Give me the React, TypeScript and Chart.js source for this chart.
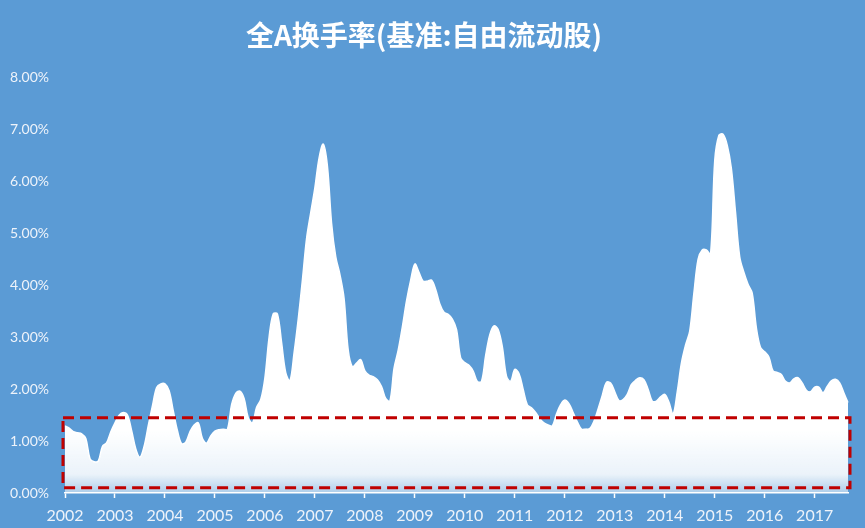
import React, { useEffect, useRef } from 'react';
import { Chart, registerables } from 'chart.js';

Chart.register(...registerables);

const titleText = '全A换手率(基准:自由流动股)';
const firstYear = 2002;

// Monthly turnover (%)
const turnover2002 = [1.29, 1.25, 1.18, 1.16, 1.14, 1.05, 0.66, 0.6, 0.62, 0.9, 0.97, 1.18];
const turnover2003 = [1.35, 1.5, 1.55, 1.5, 1.2, 0.85, 0.69, 0.9, 1.3, 1.68, 2.03, 2.1];
const turnover2004 = [2.1, 1.97, 1.58, 1.2, 0.95, 0.98, 1.18, 1.31, 1.35, 1.05, 0.96, 1.1];
const turnover2005 = [1.19, 1.22, 1.23, 1.23, 1.7, 1.92, 1.96, 1.82, 1.45, 1.35, 1.65, 1.8];
const turnover2006 = [2.22, 3.0, 3.45, 3.45, 2.9, 2.32, 2.16, 2.7, 3.35, 4.1, 4.9, 5.4];
const turnover2007 = [5.88, 6.45, 6.72, 6.3, 5.2, 4.55, 4.21, 3.75, 2.75, 2.43, 2.5, 2.57];
const turnover2008 = [2.35, 2.27, 2.24, 2.18, 2.05, 1.82, 1.77, 2.4, 2.75, 3.2, 3.7, 4.1];
const turnover2009 = [4.41, 4.25, 4.08, 4.08, 4.1, 3.92, 3.64, 3.48, 3.44, 3.35, 3.15, 2.6];
const turnover2010 = [2.51, 2.46, 2.35, 2.15, 2.15, 2.65, 3.05, 3.22, 3.15, 2.82, 2.25, 2.15];
const turnover2011 = [2.38, 2.3, 2.0, 1.7, 1.64, 1.55, 1.43, 1.35, 1.31, 1.29, 1.52, 1.7];
const turnover2012 = [1.79, 1.72, 1.55, 1.37, 1.23, 1.23, 1.24, 1.38, 1.62, 1.88, 2.13, 2.12];
const turnover2013 = [1.95, 1.78, 1.8, 1.9, 2.09, 2.17, 2.22, 2.18, 2.0, 1.77, 1.77, 1.85];
const turnover2014 = [1.9, 1.75, 1.52, 1.95, 2.5, 2.85, 3.12, 3.85, 4.5, 4.68, 4.68, 4.6];
const turnover2015 = [6.4, 6.89, 6.91, 6.7, 6.25, 5.4, 4.55, 4.25, 4.02, 3.85, 3.18, 2.8];
const turnover2016 = [2.72, 2.62, 2.35, 2.32, 2.28, 2.15, 2.12, 2.2, 2.22, 2.12, 1.98, 1.95];
const turnover2017 = [2.04, 2.04, 1.93, 2.05, 2.16, 2.19, 2.12, 1.93, 1.74];

const yearlySeries = [
  turnover2002, turnover2003, turnover2004, turnover2005, turnover2006, turnover2007,
  turnover2008, turnover2009, turnover2010, turnover2011, turnover2012, turnover2013,
  turnover2014, turnover2015, turnover2016, turnover2017,
];

// Highlighted band (red dashed box), in %
const bandLow = 0.1;
const bandHigh = 1.45;

const yMin = 0;
const yMax = 8;
const yStep = 1;

const values: number[] = yearlySeries.flat();
const labels: string[] = [];
yearlySeries.forEach((arr, yi) => {
  arr.forEach((_, mi) => labels.push(`${firstYear + yi}-${String(mi + 1).padStart(2, '0')}`));
});

const BG = '#5B9BD5';
const TEXT = '#EEF3FA';

const bandPlugin = {
  id: 'bandBox',
  afterDatasetsDraw(chart: any) {
    const { ctx, scales } = chart;
    const x = scales.x;
    const y = scales.y;
    const left = x.getPixelForValue(0) - 2;
    const right = x.getPixelForValue(values.length - 1) + 2;
    const top = y.getPixelForValue(bandHigh);
    const bottom = y.getPixelForValue(bandLow);
    ctx.save();
    ctx.strokeStyle = '#C00000';
    ctx.lineWidth = 3;
    ctx.setLineDash([11, 6]);
    ctx.strokeRect(left, top, right - left, bottom - top);
    ctx.restore();
  },
};

export default function App() {
  const canvasRef = useRef<HTMLCanvasElement | null>(null);

  useEffect(() => {
    if (!canvasRef.current) return;
    const chart = new Chart(canvasRef.current, {
      type: 'line',
      data: {
        labels,
        datasets: [
          {
            data: values,
            borderColor: '#FFFFFF',
            borderWidth: 1.5,
            pointRadius: 0,
            tension: 0.35,
            fill: 'origin',
            backgroundColor: (ctx: any) => {
              const ch = ctx.chart;
              const { chartArea, scales } = ch;
              if (!chartArea || !scales.y) return '#FFFFFF';
              const y0 = scales.y.getPixelForValue(0);
              const y1 = scales.y.getPixelForValue(1.2);
              const g = ch.ctx.createLinearGradient(0, y0, 0, y1);
              g.addColorStop(0, 'rgba(255,255,255,0.5)');
              g.addColorStop(0.3, 'rgba(255,255,255,0.88)');
              g.addColorStop(1, 'rgba(255,255,255,1)');
              return g;
            },
          },
        ],
      },
      options: {
        animation: false,
        responsive: false,
        maintainAspectRatio: false,
        layout: { padding: { left: 0, right: 17, top: 0, bottom: 0 } },
        plugins: {
          legend: { display: false },
          tooltip: { enabled: false },
          title: {
            display: true,
            text: titleText,
            color: '#FFFFFF',
            font: { family: '"Noto Sans CJK SC", "Noto Sans", sans-serif', size: 28, weight: 'bold' },
            padding: { top: 19, bottom: 25 },
          },
        },
        scales: {
          x: {
            type: 'category',
            offset: false,
            grid: {
              drawOnChartArea: false,
              drawTicks: true,
              tickLength: 5,
              color: (c: any) => (c.index % 12 === 0 ? '#FFFFFF' : 'rgba(0,0,0,0)'),
              tickColor: (c: any) => (c.index % 12 === 0 ? '#FFFFFF' : 'rgba(0,0,0,0)'),
              tickWidth: 1.5,
            },
            border: { display: true, color: '#FFFFFF', width: 1.5 },
            ticks: {
              autoSkip: false,
              maxRotation: 0,
              minRotation: 0,
              padding: 8,
              color: TEXT,
              font: { family: 'Lato, "Open Sans", sans-serif', size: 16 },
              callback: (_v: any, i: number) => (i % 12 === 0 ? String(firstYear + i / 12) : ''),
            },
            afterFit: (scale: any) => {
              scale.height = 35;
            },
          },
          y: {
            min: yMin,
            max: yMax,
            grid: { display: false, drawTicks: false },
            border: { display: false },
            ticks: {
              stepSize: yStep,
              padding: 16,
              color: TEXT,
              font: { family: 'Lato, "Open Sans", sans-serif', size: 14 },
              callback: (v: any) => Number(v).toFixed(2) + '%',
            },
            afterFit: (scale: any) => {
              scale.width = 65;
            },
          },
        },
      },
      plugins: [bandPlugin],
    });
    return () => chart.destroy();
  }, []);

  return (
    <div
      style={{
        position: 'fixed',
        left: 0,
        top: 0,
        width: 865,
        height: 528,
        background: BG,
      }}
    >
      <canvas ref={canvasRef} width={865} height={528} style={{ display: 'block', width: 865, height: 528 }} />
    </div>
  );
}
